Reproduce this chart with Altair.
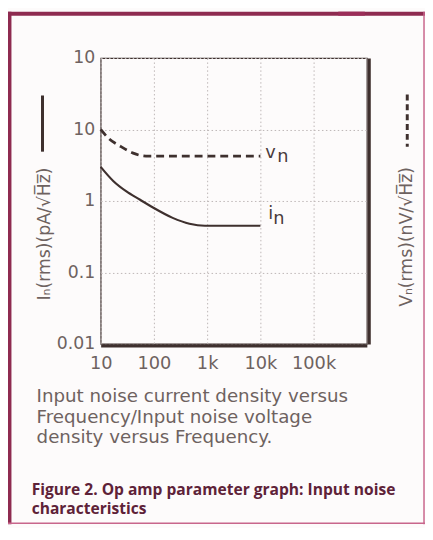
import altair as alt
import pandas as pd

# ---- data ----
in_freq = [10, 17.4, 30, 55, 96, 225, 465, 910, 10000]
in_vals = [3.0, 1.89, 1.37, 1.04, 0.81, 0.58, 0.48, 0.45, 0.45]
vn_freq = [10, 14.1, 23.4, 40.8, 71, 10000]
vn_vals = [10, 7.5, 5.83, 4.67, 4.24, 4.24]

x_ticks = [10, 100, 1000, 10000, 100000]
x_tick_labels = ["10", "100", "1k", "10k", "100k"]
y_ticks = [0.01, 0.1, 1, 10, 100]
y_tick_labels = ["0.01", "0.1", "1", "10", "10"]

caption_lines = ["Input noise current density versus",
                 "Frequency/Input noise voltage",
                 "density versus Frequency."]
figure_lines = ["Figure 2. Op amp parameter graph: Input noise",
                "characteristics"]

left_title = "I\u2099(rms)(pA/\u221aH\u0305z\u0305)"
right_title = "V\u2099(rms)(nV/\u221aH\u0305z\u0305)"

INK = "#3e302e"
GREY = "#6e6260"
MAROON = "#8e2b50"
PINK = "#c8668c"
FONT = "DejaVu Sans"


def label_expr(vals, labels):
    expr = "''"
    for v, l in reversed(list(zip(vals, labels))):
        expr = f"datum.value == {v} ? '{l}' : ({expr})"
    return expr


df_in = pd.DataFrame({"f": in_freq, "v": in_vals})
df_vn = pd.DataFrame({"f": vn_freq, "v": vn_vals})

xscale = alt.Scale(type="log", domain=[10, 1000000], nice=False)
yscale = alt.Scale(type="log", domain=[0.01, 100], nice=False)

x_axis = alt.Axis(values=x_ticks, labelExpr=label_expr(x_ticks, x_tick_labels),
                  title=None, ticks=False, domain=True, domainWidth=3.5,
                  domainColor=INK, offset=1.5, labelFont=FONT, labelFontSize=18,
                  labelColor=GREY, labelPadding=9, grid=True, gridColor="#bdb6b6",
                  gridDash=[1.5, 2.5], gridWidth=1, labelFlush=False)

y_axis_left = alt.Axis(values=y_ticks, labelExpr=label_expr(y_ticks, y_tick_labels),
                       orient="left", ticks=False, domain=False, labelFont=FONT,
                       labelFontSize=17.5, labelColor=GREY, labelPadding=6,
                       grid=True, gridColor="#bdb6b6", gridDash=[1.5, 2.5], gridWidth=1,
                       labelFlush=False,
                       title=left_title, titleFont=FONT, titleFontSize=17.5,
                       titleFontWeight="normal", titleColor=GREY, titleAngle=270,
                       titleX=-57, titleY=178, titleAlign="center", titleBaseline="middle")

y_axis_right = alt.Axis(values=y_ticks, orient="right", ticks=False, labels=False,
                        domain=True, domainWidth=3, domainColor=INK, offset=2, grid=False,
                        title=right_title, titleFont=FONT, titleFontSize=17.5,
                        titleFontWeight="normal", titleColor=GREY, titleAngle=270,
                        titleX=38, titleY=181, titleAlign="center", titleBaseline="middle")

in_line = alt.Chart(df_in).mark_line(color=INK, strokeWidth=2.2, interpolate="monotone").encode(
    x=alt.X("f:Q", scale=xscale, axis=x_axis),
    y=alt.Y("v:Q", scale=yscale, axis=y_axis_left),
)

vn_line = alt.Chart(df_vn).mark_line(color=INK, strokeWidth=2.8, strokeDash=[8, 5],
                                     interpolate="monotone").encode(
    x=alt.X("f:Q", scale=xscale, axis=x_axis),
    y=alt.Y("v:Q", scale=yscale, axis=y_axis_right),
)

# series labels at the end of each curve
end_vn = pd.DataFrame({"f": [vn_freq[-1]], "v": [vn_vals[-1]]})
end_in = pd.DataFrame({"f": [in_freq[-1]], "v": [in_vals[-1]]})


def txt(df, s, dx, dy, size):
    return alt.Chart(df).mark_text(text=s, align="left", baseline="alphabetic", dx=dx, dy=dy,
                                   font=FONT, fontSize=size, color="#4a3c3c").encode(
        x=alt.X("f:Q", scale=xscale, axis=x_axis), y=alt.Y("v:Q", scale=yscale, axis=None))


labels = [txt(end_vn, "v", 5, 2, 18), txt(end_vn, "n", 17, 6, 18),
          txt(end_in, "i", 8, -7, 18), txt(end_in, "n", 13, -2, 18)]

one = alt.Data(values=[{"k": 1}])


def rule(x, y, x2=None, y2=None, color=INK, width=1, dash=None):
    enc = {"x": alt.value(x), "y": alt.value(y)}
    if x2 is not None:
        enc["x2"] = alt.value(x2)
    if y2 is not None:
        enc["y2"] = alt.value(y2)
    kw = dict(color=color, strokeWidth=width)
    if dash:
        kw["strokeDash"] = dash
    return alt.Chart(one).mark_rule(**kw).encode(**enc)


def caption(s, x, y, font, size, weight, color):
    return alt.Chart(one).mark_text(text=s, align="left", baseline="alphabetic", font=font,
                                    fontSize=size, fontWeight=weight, color=color).encode(
        x=alt.value(x), y=alt.value(y))


captions = [caption(s, -65, 349 + 21 * i, FONT, 18.5, "normal", GREY)
            for i, s in enumerate(caption_lines)]
captions += [caption(s, -70, 443 + 20 * i, "Open Sans", 15.8, "bold", "#5e2238")
             for i, s in enumerate(figure_lines)]

deco = [
    rule(-59, 38, y2=95, color=INK, width=3),                 # solid legend line
    rule(311, 37, y2=90, color=INK, width=3, dash=[6, 4]),   # dashed legend line
    rule(-92.5, -47, y2=473, color=MAROON, width=4),          # frame left
    rule(-94, -45, x2=329, color=MAROON, width=4),            # frame top
    rule(328, -47, y2=473, color=PINK, width=1.5),            # frame right
    rule(-94, 472, x2=329, color=PINK, width=1.5),            # frame bottom
    alt.Chart(one).mark_rect(color="#9b2d58").encode(
        x=alt.value(241), x2=alt.value(268), y=alt.value(-47), y2=alt.value(-43)),
]

chart = alt.layer(in_line, vn_line, *labels, *captions, *deco).resolve_axis(
    y="independent"
).properties(
    width=270, height=290,
    padding={"left": 94, "top": 47, "right": 59, "bottom": 183},
    autosize=alt.AutoSizeParams(type="none"),
    background="#fdfbfb",
).configure_view(stroke=INK, strokeWidth=1.2)

chart.save("out.html", embed_options={"renderer": "svg", "actions": False})
